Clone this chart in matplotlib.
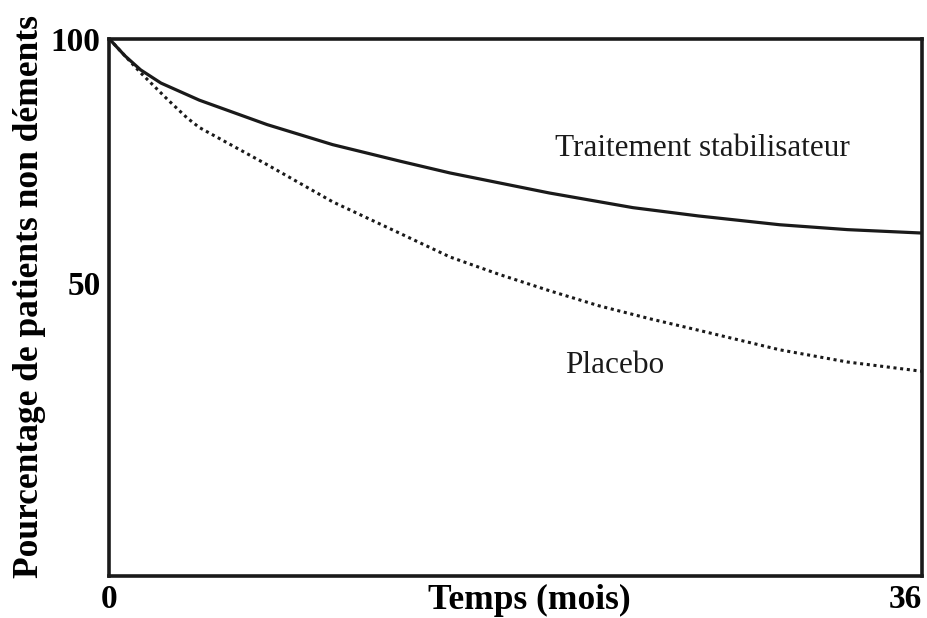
import matplotlib.pyplot as plt

# Temps (mois) et pourcentages
mois_traitement = [0, 0.7, 1.4, 2.3, 4.0, 7.0, 9.9, 12.9, 15.1, 19.5, 23.2, 26.1, 29.7, 32.7, 36]
traitement = [100, 96.5, 93.6, 90.9, 87.4, 82.4, 78.3, 74.9, 72.5, 68.4, 65.4, 63.7, 61.9, 60.9, 60.2]

mois_placebo = [0, 1.4, 2.6, 3.45, 4.0, 7.0, 9.9, 12.9, 15.1, 17.3, 19.5, 21.7, 24.0, 26.2, 29.7, 32.7, 36]
placebo = [100, 93.0, 87.5, 83.8, 81.8, 74.2, 66.6, 60.1, 55.3, 51.7, 48.4, 45.3, 42.6, 40.2, 36.3, 33.8, 31.9]

xticks = [0, 36]
yticks = [50, 100]

serif = ['Liberation Serif', 'DejaVu Serif']

fig = plt.figure(figsize=(9.28, 6.18), dpi=100)
ax = fig.add_axes([0.1175, 0.068, 0.876, 0.8695])

ax.plot(mois_traitement, traitement, color='#1a1a1a', lw=2.3, solid_capstyle='round',
        solid_joinstyle='round')
ax.plot(mois_placebo, placebo, color='#1a1a1a', lw=2.2, linestyle=(0, (1, 1.2)))

ax.set_xlim(0, 36)
ax.set_ylim(-10, 100)

for s in ax.spines.values():
    s.set_linewidth(2.6)
    s.set_color('#1a1a1a')

ax.set_xticks(xticks)
ax.set_xticklabels([str(v) for v in xticks], family=serif, fontsize=24, fontweight='bold')
ax.get_xticklabels()[-1].set_horizontalalignment('right')
ax.set_yticks(yticks)
ax.set_yticklabels([str(v) for v in yticks], family=serif, fontsize=24, fontweight='bold')
ax.tick_params(length=0, pad=6)

ax.set_xlabel('Temps (mois)', family=serif, fontsize=25.5, fontweight='bold')
ax.xaxis.label.set_verticalalignment('center')
ax.xaxis.set_label_coords(0.517, -0.045, transform=ax.transAxes)
ax.set_ylabel('Pourcentage de patients non déments', family=serif, fontsize=25.5,
              fontweight='bold')
ax.yaxis.label.set_verticalalignment('center')
ax.yaxis.set_label_coords(-0.098, 0.52)

ax.text(26.3, 77.5, 'Traitement stabilisateur', family=serif, fontsize=22.5,
        ha='center', va='center', color='#1a1a1a')
ax.text(22.4, 33.0, 'Placebo', family=serif, fontsize=22.5,
        ha='center', va='center', color='#1a1a1a')

fig.savefig('out.png', dpi=100)
